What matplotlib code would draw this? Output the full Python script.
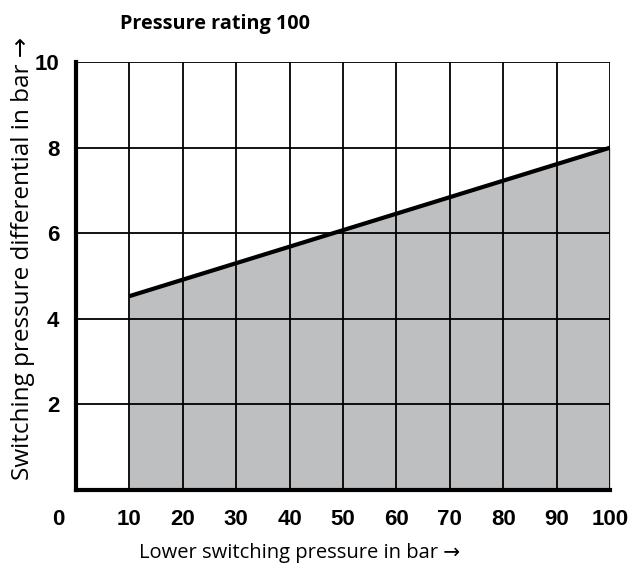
import matplotlib.pyplot as plt

# data
x_line = [10, 100]
y_line = [4.53, 8.0]
x_ticks = [10, 20, 30, 40, 50, 60, 70, 80, 90, 100]
y_ticks = [2, 4, 6, 8, 10]

tick_font = ['Liberation Sans', 'DejaVu Sans']
label_font = ['Open Sans', 'DejaVu Sans']

fig = plt.figure(figsize=(6.33, 5.70), dpi=100)
ax = fig.add_axes([0.120, 0.1404, 0.8437, 0.7506])

ax.fill_between(x_line, y_line, 0, color='#bebfc1', lw=0, zorder=1)
ax.plot(x_line, y_line, color='black', lw=3, solid_capstyle='butt', zorder=4)

ax.set_xlim(0, 100)
ax.set_ylim(0, 10)
ax.set_xticks(x_ticks)
ax.set_yticks(y_ticks)
ax.grid(True, color='black', lw=1.3, zorder=2)
ax.set_axisbelow(False)
ax.tick_params(length=0, pad=14)
ax.tick_params(axis='y', pad=12)

for lab in ax.get_xticklabels() + ax.get_yticklabels():
    lab.set_family(tick_font)
    lab.set_fontweight('bold')
    lab.set_fontsize(16)

# "0" sits left of the corner
ax.annotate('0', xy=(0, 0), xycoords='data', xytext=(-13, -14),
            textcoords='offset points', ha='center', va='top',
            family=tick_font, fontweight='bold', fontsize=16)

for side in ['top', 'right']:
    ax.spines[side].set_visible(False)
ax.spines['left'].set_linewidth(3)
ax.spines['bottom'].set_linewidth(3)
ax.spines['left'].set_zorder(5)
ax.spines['bottom'].set_zorder(5)

ax.set_xlabel('Lower switching pressure in bar →', family=label_font,
              fontsize=14.5, labelpad=9, x=0.418)
fig.text(0.036, 0.547, 'Switching pressure differential in bar →',
         family=label_font, fontsize=17.5, rotation=90,
         ha='center', va='center')

fig.text(0.19, 0.958, 'Pressure rating 100', family=label_font,
         fontweight='bold', fontsize=14.3, va='center', ha='left')

fig.savefig('out.png', dpi=100)
